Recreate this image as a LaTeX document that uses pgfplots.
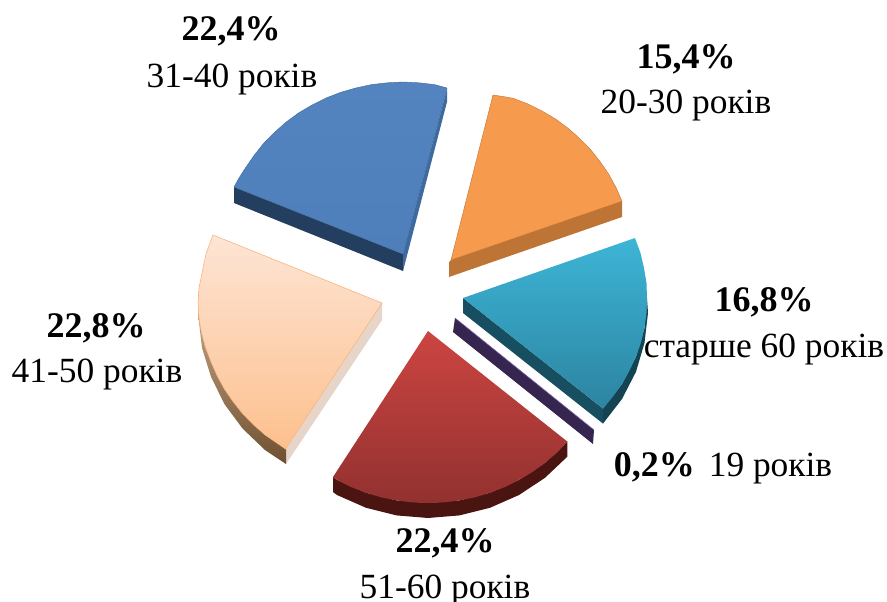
\documentclass[border=0pt]{standalone}
\usepackage{fontspec}
\setmainfont{Liberation Serif}
\usepackage{pgfplots}
\pgfplotsset{compat=1.18}

\definecolor{blueTop}{HTML}{5484BF}
\definecolor{blueBot}{HTML}{4F7FBA}
\definecolor{blueSide}{HTML}{243E5F}
\definecolor{blueEdge}{HTML}{3D6A9F}
\definecolor{orTop}{HTML}{F69A4D}
\definecolor{orSide}{HTML}{BE7434}
\definecolor{tealA}{HTML}{3DB5D6}
\definecolor{tealB}{HTML}{2C84A1}
\definecolor{tealSide}{HTML}{174F60}
\definecolor{purp}{HTML}{35254F}
\definecolor{purpEdge}{HTML}{7A62A8}
\definecolor{redA}{HTML}{CC4541}
\definecolor{redB}{HTML}{923130}
\definecolor{redSide}{HTML}{4A1410}
\definecolor{peachA}{HTML}{FDE5D5}
\definecolor{peachB}{HTML}{FDC08E}
\definecolor{peachEdge}{HTML}{F9B47E}
\definecolor{peachSide}{HTML}{E6D5C8}
\definecolor{peachDkA}{HTML}{C9A98A}
\definecolor{peachDkB}{HTML}{6E5030}

\newcommand{\pct}{\fontsize{36}{40}\selectfont\bfseries}
\newcommand{\reg}{\fontsize{35.4}{40}\selectfont}

\begin{document}
\begin{tikzpicture}
\clip (0,0) rectangle (887pt,602pt);
\begin{axis}[
    width=887pt,
    height=602pt,
    scale only axis,
    hide axis,
    clip=false,
    xmin=0, xmax=887,
    ymin=0, ymax=602,
    y dir=reverse,
]

% 31-40, blue
\addplot[draw=none, fill=blueSide] coordinates {(403,254)(234,187)(234,203)(403,271)} -- cycle;
\addplot[draw=none, fill=blueEdge] coordinates {(403,254)(447,89)(447,102)(403,271)} -- cycle;
\addplot[draw=blueEdge, line width=0.4pt, top color=blueTop, bottom color=blueBot] coordinates {
    (403,254)(447,88)(434.6,84.6)(419,82.8)(403,82)(387,82.8)(371.4,84.6)(355.8,88)(340.8,92.3)(326,98)
    (312,105)(298.5,113)(286,122.2)(274.5,132.4)(263.6,143.4)(254,155.5)(245.4,168)(239,178)(234,187)
} -- cycle;

% 20-30, orange
\addplot[draw=none, fill=orSide] coordinates {(451,260)(622,201)(622,217)(449,277)(449,262)} -- cycle;
\addplot[draw=orSide, line width=0.4pt, fill=orTop] coordinates {
    (451,260)(493,95)(503,96.5)(513.2,98.3)(528,104)(542,111)(555.5,119)(568,128.2)(579.6,138.4)
    (590.4,149.4)(600,161.5)(608.6,174)(616,187.5)(622,201.2)
} -- cycle;

% older than 60, teal
\addplot[draw=none, fill=tealSide] coordinates {(463,298)(603,408.6)(603,423.6)(463,313)} -- cycle;
\addplot[draw=none, fill=tealSide!85!black] coordinates {
    (647,298)(644.5,327.9)(636,356.8)(622,384)(603,408.6)(603,423.6)(622,399)(636,371.8)(644.5,342.9)(648,313)
} -- cycle;
\addplot[draw=none, top color=tealA, bottom color=tealB] coordinates {
    (463,298)(635,238)(640.5,253)(644,268.1)(646.5,283)(647,298)(646.5,313)(644.5,327.9)(641,342.5)
    (636,356.8)(629.5,370.5)(622,384)(613,396.5)(603,408.6)
} -- cycle;

% 19, purple sliver
\addplot[draw=none, fill=purp] coordinates {(455,318)(594,430)(593,444)(453,332)} -- cycle;
\addplot[purpEdge, line width=0.6pt] coordinates {(455,318)(594,430)};

% 51-60, red
\addplot[draw=none, fill=redSide] coordinates {
    (567.4,441.6)(545,462.8)(519,480)(490.2,492.7)(459.6,500.4)(428,503)(396.4,500.4)(365.8,492.7)(337,480)(333,477)
    (333,492)(337,495)(365.8,507.7)(396.4,515.4)(428,518)(459.6,515.4)(490.2,507.7)(519,495)(545,477.8)(567.4,456.6)
} -- cycle;
\addplot[draw=none, top color=redA, bottom color=redB] coordinates {
    (428,331)(567.4,441.6)(557,452.7)(545,462.8)(532.5,472)(519,480)(505,487)(490.2,492.7)(475,497.3)
    (459.6,500.4)(444,502.4)(428,503)(412,502.4)(396.4,500.4)(381,497.3)(365.8,492.7)(351,487)(337,480)(333,477)
} -- cycle;

% 41-50, peach
\addplot[draw=none, fill=peachSide] coordinates {(382,303)(382,320)(286,464)(286,449)} -- cycle;
\addplot[draw=none, top color=peachDkA, bottom color=peachDkB] coordinates {
    (198,303)(198.5,318)(202,348)(211,376.8)(224.4,404)(242.6,428.6)(265,450)(286,464)(286,449)
    (265,434.8)(242.6,413.6)(224.4,389)(211,361.8)(202,332.9)(199,303)
} -- cycle;
\addplot[draw=peachEdge, line width=0.6pt, top color=peachA, bottom color=peachB] coordinates {
    (382,303)(213,235)(206,254)(202,273.1)(199,288)(198,303)(199,318)(201.5,332.9)(205.5,347.5)(211,361.8)
    (217,375.5)(224.4,389)(233,401.5)(242.6,413.6)(253.5,424.7)(265,434.8)(285.6,449)
} -- cycle;

\node[anchor=center] at (axis cs:231,31) {\pct 22,4\%};
\node[anchor=center] at (axis cs:232,79) {\reg 31-40 років};
\node[anchor=center] at (axis cs:686,59) {\pct 15,4\%};
\node[anchor=center] at (axis cs:686,105) {\reg 20-30 років};
\node[anchor=center] at (axis cs:764,302) {\pct 16,8\%};
\node[anchor=center] at (axis cs:764,349) {\reg старше 60 років};
\node[anchor=center] at (axis cs:723,468) {{\pct 0,2\%}\hspace{14pt}{\reg 19 років}};
\node[anchor=center] at (axis cs:445,543) {\pct 22,4\%};
\node[anchor=center] at (axis cs:445,590) {\reg 51-60 років};
\node[anchor=center] at (axis cs:96,328) {\pct 22,8\%};
\node[anchor=center] at (axis cs:97,374) {\reg 41-50 років};

\end{axis}
\end{tikzpicture}
\end{document}
